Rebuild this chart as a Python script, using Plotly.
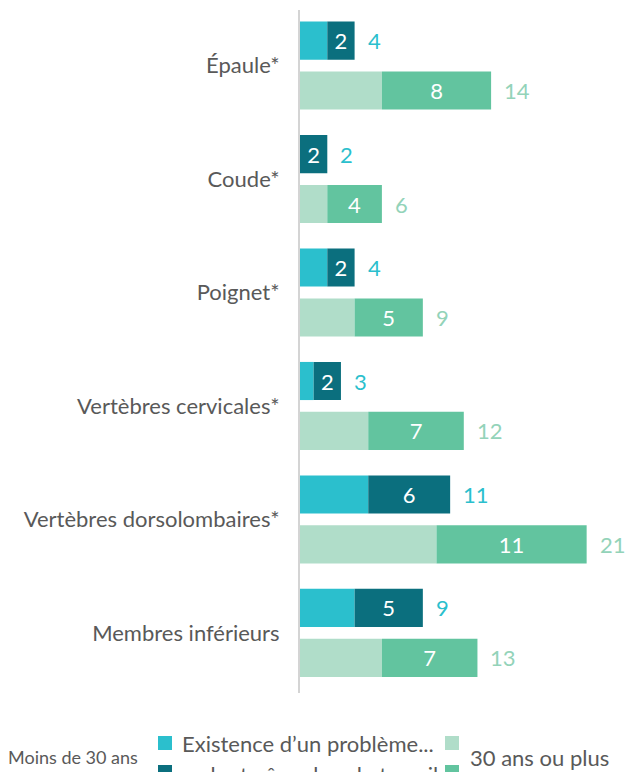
import plotly.graph_objects as go

categories = [
    "Épaule*",
    "Coude*",
    "Poignet*",
    "Vertèbres cervicales*",
    "Vertèbres dorsolombaires*",
    "Membres inférieurs",
]
moins30_total = [4, 2, 4, 3, 11, 9]
moins30_gene = [2, 2, 2, 2, 6, 5]
plus30_total = [14, 6, 9, 12, 21, 13]
plus30_gene = [8, 4, 5, 7, 11, 7]

C_TEAL = "#2bbfcd"
C_TEAL_DARK = "#0b6f7e"
C_MINT_LIGHT = "#b0ddc9"
C_MINT = "#62c49f"
C_TXT = "#595959"
FONT = "Lato"
FS = 22

W, H = 625, 772
L, R, T, B = 300, 0, 10, 772 - 693
OFF = 0.22
BW = 0.336
X_MAX = (W - L - R) / 13.65

y_idx = list(range(len(categories)))
y_top = [i - OFF for i in y_idx]
y_bot = [i + OFF for i in y_idx]


def paper(px, py):
    # pixel -> paper coords
    return (px - L) / (W - L - R), 1 - (py - T) / (H - T - B)


fig = go.Figure()

fig.add_trace(go.Bar(
    y=y_top, x=[t - g for t, g in zip(moins30_total, moins30_gene)], base=0,
    orientation="h", width=BW, marker=dict(color=C_TEAL, line=dict(width=0)),
    name="Existence d’un problème...",
))
fig.add_trace(go.Bar(
    y=y_top, x=moins30_gene, base=[t - g for t, g in zip(moins30_total, moins30_gene)],
    orientation="h", width=BW, marker=dict(color=C_TEAL_DARK, line=dict(width=0)),
    text=moins30_gene, textposition="inside", insidetextanchor="middle",
    textangle=0, textfont=dict(color="white", size=FS, family=FONT),
    name="... dont gêne dans le travail",
))
fig.add_trace(go.Bar(
    y=y_bot, x=[t - g for t, g in zip(plus30_total, plus30_gene)], base=0,
    orientation="h", width=BW, marker=dict(color=C_MINT_LIGHT, line=dict(width=0)),
))
fig.add_trace(go.Bar(
    y=y_bot, x=plus30_gene, base=[t - g for t, g in zip(plus30_total, plus30_gene)],
    orientation="h", width=BW, marker=dict(color=C_MINT, line=dict(width=0)),
    text=plus30_gene, textposition="inside", insidetextanchor="middle",
    textangle=0, textfont=dict(color="white", size=FS, family=FONT),
))

annotations = []
for yy, tot in zip(y_top, moins30_total):
    annotations.append(dict(x=tot, y=yy, text=str(tot), showarrow=False,
                            xanchor="left", xshift=11,
                            font=dict(color=C_TEAL, size=FS, family=FONT)))
for yy, tot in zip(y_bot, plus30_total):
    annotations.append(dict(x=tot, y=yy, text=str(tot), showarrow=False,
                            xanchor="left", xshift=11,
                            font=dict(color="#93d3b9", size=FS, family=FONT)))


# custom legend below the chart
def legend_text(px, py, txt, size=FS, anchor="left"):
    x, y = paper(px, py)
    annotations.append(dict(x=x, y=y, xref="paper", yref="paper", text=txt,
                            showarrow=False, xanchor=anchor, yanchor="middle",
                            font=dict(color=C_TXT, size=size, family=FONT)))


legend_text(6, 757, "Moins de 30 ans", size=18)
legend_text(180, 743, "Existence d’un problème...")
legend_text(180, 774, "... dont gêne dans le travail")
legend_text(468, 757, "30 ans ou plus")

shapes = []
for px, py, col in [(158, 736, C_TEAL), (158, 765, C_TEAL_DARK),
                    (445, 736, C_MINT_LIGHT), (445, 765, C_MINT)]:
    x0, y1 = paper(px, py)
    x1, y0 = paper(px + 14, py + 14)
    shapes.append(dict(type="rect", xref="paper", yref="paper",
                       x0=x0, x1=x1, y0=y0, y1=y1,
                       fillcolor=col, line=dict(width=0)))

fig.update_layout(
    width=W, height=H,
    margin=dict(l=L, r=R, t=T, b=B),
    barmode="overlay",
    showlegend=False,
    plot_bgcolor="white", paper_bgcolor="white",
    font=dict(family=FONT, color=C_TXT),
    annotations=annotations,
    shapes=shapes,
)
fig.update_xaxes(range=[0, X_MAX], visible=False, fixedrange=True)
fig.update_yaxes(
    range=[5.53, -0.49], tickvals=y_idx, ticktext=categories,
    showgrid=False, zeroline=False, showline=True, linecolor="#d4d4d4",
    linewidth=2, ticks="", ticklabelstandoff=14,
    tickfont=dict(size=FS, color=C_TXT, family=FONT),
)

# drop the default body margin so the figure fills the window exactly
fig.write_html(
    "out.html",
    config={"displayModeBar": False},
    post_script="document.body.style.margin='0';document.body.style.overflow='hidden';",
)
